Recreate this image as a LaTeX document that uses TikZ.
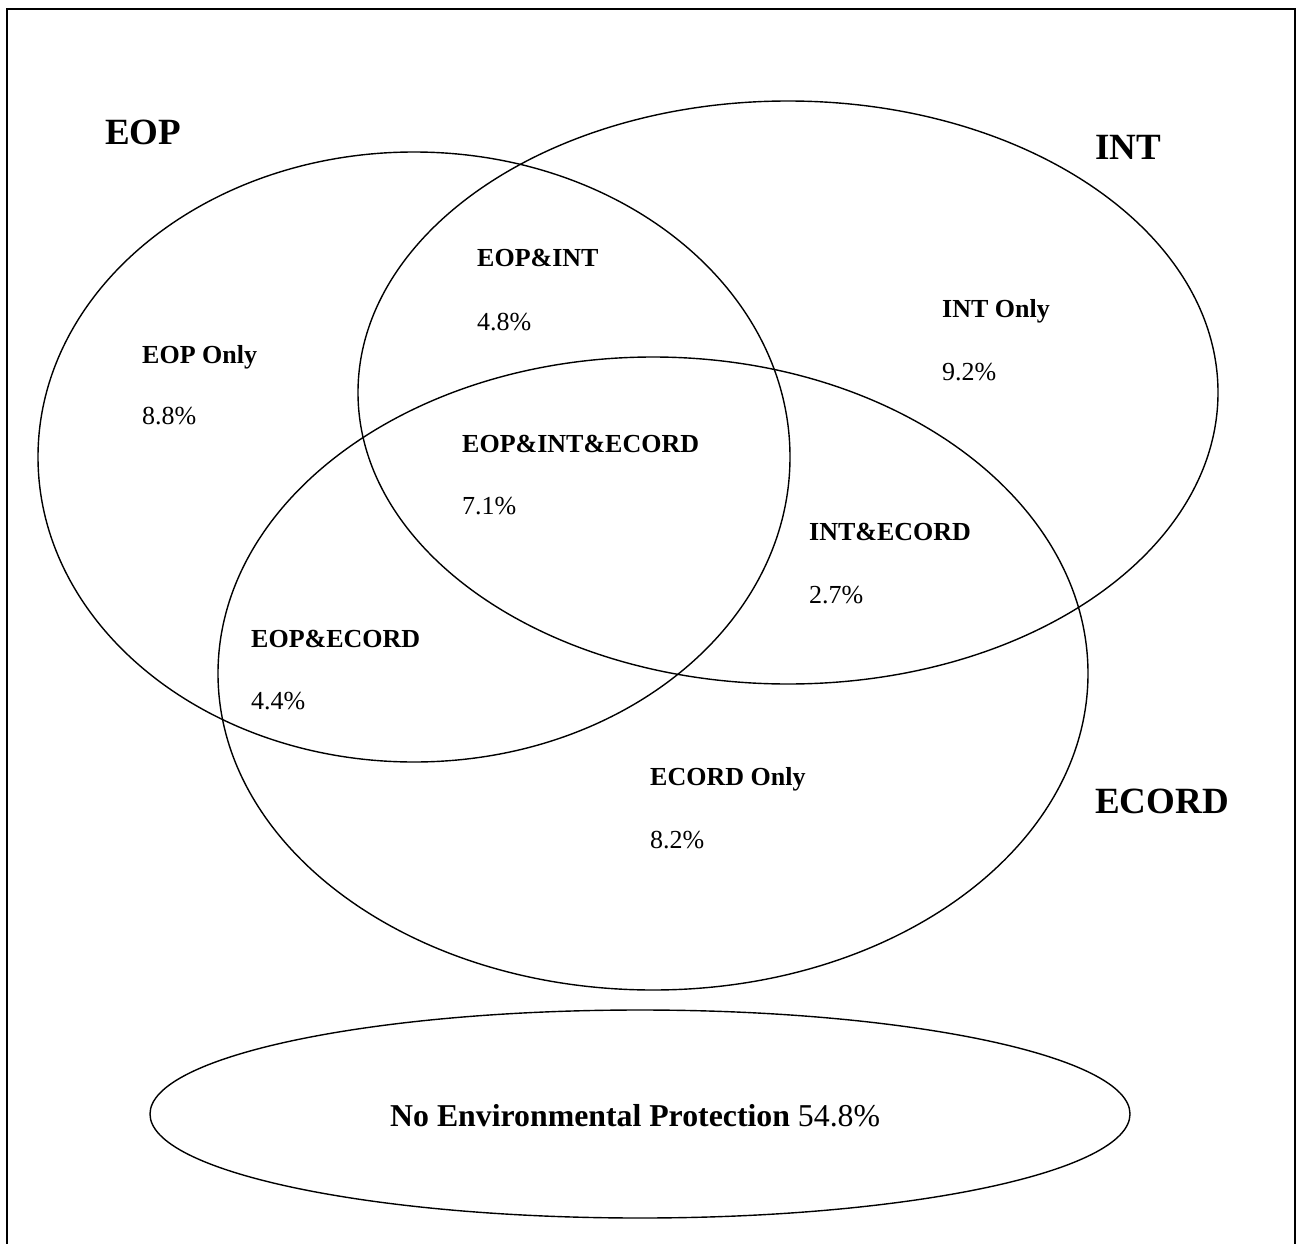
\documentclass[tikz,border=0pt]{standalone}
\usepackage{fontspec}
\setmainfont{Liberation Serif}
\begin{document}
\begin{tikzpicture}[x=1pt,y=-1pt,
  ring/.style={line width=1.4pt},
  frame/.style={line width=1.8pt},
  big/.style={anchor=base west,inner sep=0pt,font=\fontsize{37}{40}\selectfont\bfseries},
  lab/.style={anchor=base west,inner sep=0pt,font=\fontsize{26}{30}\selectfont\bfseries},
  pct/.style={anchor=base west,inner sep=0pt,font=\fontsize{26}{30}\selectfont}]
\useasboundingbox (0,0) rectangle (1298,1244);
\draw[frame] (7,1250) -- (7,9) -- (1295,9) -- (1295,1250);
% circles
\draw[ring] (414,457) ellipse [x radius=376, y radius=305];
\draw[ring] (788,392.5) ellipse [x radius=430, y radius=291.5];
\draw[ring] (653,673.5) ellipse [x radius=435, y radius=316.5];
\draw[ring] (640,1114) ellipse [x radius=490, y radius=104];
% set names
\node[big] (neop) at (105,145) {EOP};
\node[big] (nint) at (1095,160) {INT};
\node[big] (necord) at (1095,813) {ECORD};
% regions
\node[lab] (l1) at (142,363) {EOP Only};
\node[pct] (p1) at (142,424) {8.8\%};
\node[lab] (l2) at (477,266) {EOP\&INT};
\node[pct] (p2) at (477,330) {4.8\%};
\node[lab] (l3) at (942,317) {INT Only};
\node[pct] (p3) at (942,380) {9.2\%};
\node[lab] (l4) at (462,452) {EOP\&INT\&ECORD};
\node[pct] (p4) at (462,514) {7.1\%};
\node[lab] (l5) at (809,540) {INT\&ECORD};
\node[pct] (p5) at (809,603) {2.7\%};
\node[lab] (l6) at (251,647) {EOP\&ECORD};
\node[pct] (p6) at (251,709) {4.4\%};
\node[lab] (l7) at (650,785) {ECORD Only};
\node[pct] (p7) at (650,848) {8.2\%};
\node[anchor=base west,inner sep=0pt,font=\fontsize{31.8}{36}\selectfont] (none) at (390,1126) {\textbf{No Environmental Protection} 54.8\%};
\end{tikzpicture}
\end{document}
